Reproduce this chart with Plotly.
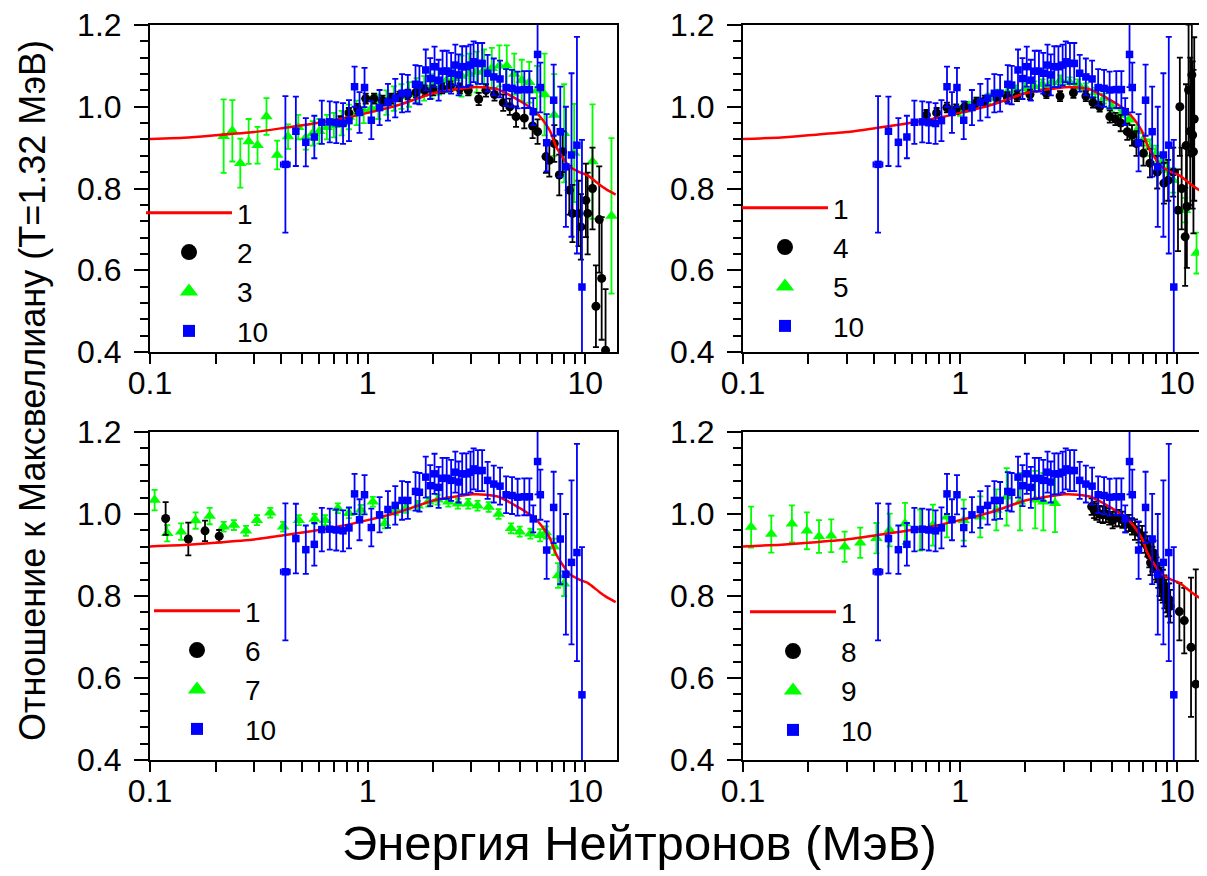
import plotly.graph_objects as go

# curve 1: ratio of the evaluated spectrum to the Maxwellian (T=1.32 MeV)
red_e = [0.1, 0.15, 0.2, 0.3, 0.41, 0.55, 0.745, 1.0, 1.4, 2.0, 2.5, 3.04, 3.5, 4.0, 4.33,
         4.8, 5.35, 5.9, 6.37, 6.9, 7.34, 7.9, 8.45, 9.4, 10.26, 11.6, 12.5, 13.8]
red_v = [0.921, 0.925, 0.93, 0.938, 0.948, 0.958, 0.970, 0.985, 1.005, 1.033, 1.042, 1.048, 1.047,
         1.042, 1.033, 1.02, 1.005, 0.988, 0.968, 0.94, 0.903, 0.875, 0.854, 0.84, 0.832, 0.81,
         0.798, 0.785]

# set 10 (shown in every panel)
blue_e = [0.419, 0.468, 0.52, 0.569, 0.616, 0.670, 0.718, 0.771, 0.821, 0.871, 0.918, 0.968, 1.04,
          1.135, 1.24, 1.34, 1.44, 1.53, 1.66, 1.73, 1.85, 1.94, 2.03, 2.12, 2.21, 2.31, 2.42,
          2.53, 2.62, 2.72, 2.84, 2.97, 3.07, 3.21, 3.36, 3.56, 3.80, 4.06, 4.33, 4.61, 4.89,
          5.25, 5.54, 5.77, 6.04, 6.22, 6.65, 7.16, 7.68, 8.15, 8.65, 9.16, 9.66]
blue_v = [0.859, 0.940, 0.913, 0.926, 0.962, 0.963, 0.961, 0.959, 0.966, 1.049, 0.986, 1.047, 0.967,
          0.998, 1.011, 1.021, 1.033, 1.033, 1.055, 1.053, 1.090, 1.069, 1.098, 1.065, 1.087,
          1.087, 1.082, 1.102, 1.078, 1.098, 1.098, 1.102, 1.110, 1.106, 1.106, 1.082, 1.073,
          1.068, 1.047, 1.045, 1.041, 1.042, 1.042, 0.988, 1.128, 1.047, 0.912, 1.016, 0.939,
          0.853, 0.882, 0.906, 0.559]
blue_err = [0.167, 0.085, 0.059, 0.052, 0.053, 0.05, 0.05, 0.05, 0.05, 0.049, 0.05, 0.048, 0.046,
            0.043, 0.045, 0.047, 0.047, 0.045, 0.047, 0.047, 0.05, 0.05, 0.049,
            0.05, 0.05, 0.05, 0.05, 0.05, 0.05, 0.05, 0.05, 0.05, 0.05, 0.05, 0.05,
            0.045, 0.045, 0.045, 0.045, 0.045, 0.045, 0.045, 0.045,
            0.033, 0.08, 0.061, 0.07, 0.087, 0.11, 0.147, 0.2, 0.265, 0.36]
blue_xerr = [0.02, 0.01] + [0] * 51

# panel a: sets 2 and 3
black2_e = [0.75, 0.82, 0.9, 0.98, 1.07, 1.17, 1.28, 1.4, 1.53, 1.67, 1.83, 2.0, 2.2, 2.4, 2.65,
            2.9, 3.24, 3.5, 3.83, 4.2, 4.5, 4.81, 5.25, 5.73, 6.04, 6.6, 6.84, 7.21, 7.6, 7.87,
            8.45, 8.74, 9.31, 9.55, 10.07, 10.26, 10.8, 11.2, 11.6, 11.9, 12.4]
black2_v = [0.965, 0.985, 0.995, 1.02, 1.02, 1.015, 1.02, 1.025, 1.03, 1.035, 1.04, 1.04, 1.045,
            1.05, 1.045, 1.04, 1.019, 1.04, 1.03, 1.01, 1.0, 0.976, 0.972, 0.953, 0.939, 0.878,
            0.869, 0.91, 0.833, 0.89, 0.796, 0.739, 0.739, 0.706, 0.771, 0.739, 0.80, 0.512,
            0.724, 0.58, 0.404]
black2_err = [0.012] * 16 + [0.015, 0.015, 0.015, 0.02, 0.02, 0.025, 0.025, 0.03, 0.03, 0.04,
                             0.04, 0.045, 0.05, 0.05, 0.06, 0.07, 0.08, 0.08, 0.09, 0.1, 0.1,
                             0.1, 0.13, 0.15, 0.15]
green3_e = [0.218, 0.239, 0.26, 0.284, 0.312, 0.343, 0.384, 0.431, 0.48, 0.52, 0.56, 0.60, 0.65,
            0.70, 0.76, 0.82, 0.89, 0.96, 1.04, 1.12, 1.22, 1.32, 1.43, 1.55, 1.68, 1.82, 1.97,
            2.13, 2.31, 2.5, 2.7, 2.93, 3.17, 3.43, 3.72, 4.03, 4.36, 4.72, 5.11, 5.53, 6.0,
            6.5, 7.2, 8.0, 8.9, 10.8, 13.2]
green3_v = [0.928, 0.941, 0.862, 0.915, 0.906, 0.976, 0.882, 0.927, 0.95, 0.925, 0.935, 0.94,
            0.95, 0.955, 0.96, 0.975, 0.985, 0.99, 0.995, 1.0, 1.01, 1.02, 1.025, 1.03, 1.04,
            1.045, 1.05, 1.06, 1.065, 1.07, 1.075, 1.08, 1.085, 1.09, 1.094, 1.10, 1.10, 1.08,
            1.065, 1.06, 1.04, 1.03, 0.98, 0.935, 0.887, 0.866, 0.733]
green3_err = [0.09, 0.075, 0.06, 0.055, 0.045, 0.045, 0.035, 0.03] + [0.03] * 22 + [0.05] * 10 \
    + [0.06, 0.1, 0.1, 0.12, 0.12, 0.14, 0.19]

# panel b: sets 4 and 5
black4_e = [0.70, 0.78, 0.87, 0.96, 1.05, 1.19, 1.3, 1.48, 1.65, 1.83, 2.1, 2.5, 2.89, 3.33, 3.8,
            4.1, 4.4, 4.9, 5.2, 5.5, 5.9, 6.2, 6.5, 7.0, 7.5, 8.1, 8.7, 9.1, 9.6, 10.1, 10.3,
            10.5, 10.9, 11.0, 11.1, 11.3, 11.5, 11.7, 11.8, 11.9, 12.0]
black4_v = [0.980, 0.985, 0.998, 0.994, 1.0, 1.010, 1.015, 1.022, 1.024, 1.026, 1.03, 1.033,
            1.026, 1.034, 1.026, 1.01, 1.0, 0.976, 0.97, 0.96, 0.939, 0.93, 0.91, 0.886, 0.862,
            0.84, 0.813, 0.82, 0.84, 0.747, 1.0, 0.80, 0.682, 0.905, 0.756, 1.041, 0.94, 1.078,
            0.931, 0.89, 0.97]
black4_err = [0.012] * 17 + [0.015, 0.015, 0.02, 0.02, 0.025, 0.03, 0.03, 0.035, 0.04, 0.05,
                             0.05, 0.06] \
    + [0.1, 0.12, 0.1, 0.12, 0.15, 0.15, 0.16, 0.18, 0.2, 0.18, 0.2, 0.2]
green5_e = [1.0, 1.1, 1.2, 1.35, 1.5, 1.65, 1.8, 2.0, 2.2, 2.4, 2.65, 2.9, 3.2, 3.5, 3.8, 4.2,
            4.6, 5.0, 5.5, 6.0, 6.5, 7.0, 7.5, 8.0, 8.5, 9.0, 9.6, 10.9, 12.3, 13.7]
green5_v = [0.99, 1.0, 1.01, 1.02, 1.03, 1.035, 1.04, 1.045, 1.05, 1.055, 1.06, 1.065, 1.06,
            1.055, 1.045, 1.035, 1.02, 1.0, 0.98, 0.968, 0.94, 0.92, 0.9, 0.885, 0.865, 0.845,
            0.82, 0.747, 0.642, 0.584]
green5_err = [0.012] * 20 + [0.015, 0.015, 0.02, 0.02, 0.02, 0.025, 0.03, 0.03, 0.05, 0.06]

# panel c: sets 6 and 7
black6_e = [0.118, 0.15, 0.179, 0.208]
black6_v = [0.989, 0.939, 0.959, 0.946]
black6_err = [0.04, 0.04, 0.025, 0.015]
green7_e = [0.105, 0.12, 0.139, 0.162, 0.188, 0.218, 0.243, 0.276, 0.31, 0.357, 0.409, 0.483,
            0.571, 0.638, 0.73, 0.82, 0.93, 1.057, 1.2, 1.35, 1.5, 1.7, 1.9, 2.1, 2.35, 2.6,
            2.9, 3.2, 3.6, 4.0, 4.56, 5.0, 5.6, 6.2, 6.6, 7.2, 7.5, 8.0]
green7_v = [1.034, 0.953, 0.957, 0.984, 0.995, 0.969, 0.973, 0.959, 0.985, 1.003, 0.969, 0.985,
            0.988, 0.985, 1.014, 1.002, 1.01, 1.03, 0.977, 1.01, 1.015, 1.02, 1.03, 1.035, 1.03,
            1.025, 1.025, 1.02, 1.017, 1.0, 0.965, 0.957, 0.952, 0.948, 0.955, 0.92, 0.85, 0.83]
green7_err = [0.025, 0.02, 0.02, 0.02, 0.02] + [0.012] * 28 + [0.015, 0.015, 0.02, 0.03, 0.03]

# panel d: sets 8 and 9
black8_e = [4.04, 4.15, 4.25, 4.4, 4.55, 4.7, 4.87, 5.05, 5.2, 5.4, 5.6, 5.8, 6.0, 6.2, 6.4,
            6.65, 6.9, 7.1, 7.3, 7.45, 7.55, 7.7, 7.8, 7.95, 8.05, 8.2, 8.3, 8.45, 8.6, 8.75,
            8.9, 9.05, 9.2, 9.3, 10.25, 10.8, 11.6, 12.2]
black8_v = [1.018, 1.01, 1.006, 1.0, 0.998, 1.0, 0.994, 0.985, 0.99, 0.99, 0.986, 0.975, 0.978,
            0.97, 0.962, 0.955, 0.946, 0.93, 0.921, 0.90, 0.881, 0.89, 0.905, 0.87, 0.864, 0.85,
            0.84, 0.83, 0.824, 0.81, 0.80, 0.79, 0.791, 0.775, 0.762, 0.74, 0.675, 0.585]
black8_err = [0.02] * 14 + [0.025] * 5 + [0.03] * 7 + [0.04] * 8 + [0.07, 0.08, 0.17, 0.28]
green9_e = [0.109, 0.135, 0.168, 0.197, 0.224, 0.255, 0.294, 0.347, 0.412, 0.474, 0.558, 0.655,
            0.75, 0.87, 1.04, 1.24, 1.47, 1.64, 1.89, 2.22, 2.42, 2.74]
green9_v = [0.968, 0.951, 0.976, 0.959, 0.945, 0.947, 0.92, 0.93, 0.941, 0.961, 0.977, 0.961,
            0.973, 0.993, 0.985, 0.993, 1.01, 1.042, 1.03, 1.035, 1.03, 1.026]
green9_err = [0.05, 0.045, 0.045, 0.045, 0.04, 0.04, 0.037, 0.037, 0.037, 0.04, 0.05, 0.05,
              0.05, 0.05, 0.05, 0.05, 0.05, 0.07, 0.07, 0.07, 0.07, 0.07]

x_ticks = [0.1, 1, 10]
x_tick_text = ['0.1', '1', '10']
x_minor = [0.2, 0.3, 0.4, 0.5, 0.6, 0.7, 0.8, 0.9, 2, 3, 4, 5, 6, 7, 8, 9]
y_ticks = [0.4, 0.6, 0.8, 1.0, 1.2]
y_tick_text = ['0.4', '0.6', '0.8', '1.0', '1.2']

FONT = 'Liberation Sans, Arial, sans-serif'
BLACK = '#000000'
GREEN = '#00ff00'
BLUE = '#0000ff'
RED = '#ff0000'

panels = [
    # axis suffix, legend id, black set, green set, labels
    ('', 'legend', (black2_e, black2_v, black2_err), (green3_e, green3_v, green3_err), ('2', '3')),
    ('2', 'legend2', (black4_e, black4_v, black4_err), (green5_e, green5_v, green5_err), ('4', '5')),
    ('3', 'legend3', (black6_e, black6_v, black6_err), (green7_e, green7_v, green7_err), ('6', '7')),
    ('4', 'legend4', (black8_e, black8_v, black8_err), (green9_e, green9_v, green9_err), ('8', '9')),
]

fig = go.Figure()

for sfx, leg, blk, grn, labels in panels:
    xa, ya = 'x' + sfx, 'y' + sfx
    fig.add_trace(go.Scatter(x=grn[0], y=grn[1], mode='markers', xaxis=xa, yaxis=ya,
                             marker=dict(symbol='triangle-up', size=11, color=GREEN),
                             error_y=dict(type='data', array=grn[2], color=GREEN,
                                          thickness=1.8, width=3),
                             showlegend=False))
    fig.add_trace(go.Scatter(x=blk[0], y=blk[1], mode='markers', xaxis=xa, yaxis=ya,
                             marker=dict(symbol='circle', size=9, color=BLACK),
                             error_y=dict(type='data', array=blk[2], color=BLACK,
                                          thickness=1.8, width=3),
                             showlegend=False))
    fig.add_trace(go.Scatter(x=red_e, y=red_v, mode='lines', xaxis=xa, yaxis=ya,
                             line=dict(color=RED, width=2.5, shape='spline', smoothing=0.5),
                             showlegend=False))
    fig.add_trace(go.Scatter(x=blue_e, y=blue_v, mode='markers', xaxis=xa, yaxis=ya,
                             marker=dict(symbol='square', size=7.5, color=BLUE),
                             error_y=dict(type='data', array=blue_err, color=BLUE,
                                          thickness=1.8, width=3),
                             error_x=dict(type='data', array=blue_xerr, color=BLUE,
                                          thickness=1.8, width=3),
                             showlegend=False))
    # legend entries
    fig.add_trace(go.Scatter(x=[None], y=[None], mode='lines', name='1', xaxis=xa, yaxis=ya,
                             line=dict(color=RED, width=3), legend=leg, legendgroup=leg + 'a'))
    fig.add_trace(go.Scatter(x=[None], y=[None], mode='markers', name=labels[0], xaxis=xa,
                             yaxis=ya, marker=dict(symbol='circle', size=16, color=BLACK),
                             legend=leg, legendgroup=leg + 'b'))
    fig.add_trace(go.Scatter(x=[None], y=[None], mode='markers', name=labels[1], xaxis=xa,
                             yaxis=ya, marker=dict(symbol='triangle-up', size=16, color=GREEN),
                             legend=leg, legendgroup=leg + 'c'))
    fig.add_trace(go.Scatter(x=[None], y=[None], mode='markers', name='10', xaxis=xa, yaxis=ya,
                             marker=dict(symbol='square', size=12, color=BLUE),
                             legend=leg, legendgroup=leg + 'd'))

W, H = 1207, 876
OFF = 8  # page margin of the html body
dom_x = {'': [(150 - OFF) / W, (617 - OFF) / W], '2': [(743 - OFF) / W, (1207 - OFF) / W]}
dom_x['3'], dom_x['4'] = dom_x[''], dom_x['2']
dom_y = {'': [1 - (352 - OFF) / H, 1 - (25 - OFF) / H], '3': [1 - (760 - OFF) / H, 1 - (432 - OFF) / H]}
dom_y['2'], dom_y['4'] = dom_y[''], dom_y['3']
x_max = {'': 1.146, '2': 1.138, '3': 1.146, '4': 1.138}

layout = dict(width=W, height=H, margin=dict(l=0, r=0, t=0, b=0, autoexpand=False),
              template='none', paper_bgcolor='white', plot_bgcolor='white',
              font=dict(family=FONT, size=28, color='black'))

for sfx in ['', '2', '3', '4']:
    layout['xaxis' + sfx] = dict(
        type='log', domain=dom_x[sfx], range=[-1, x_max[sfx]], anchor='y' + sfx,
        automargin=False, showline=True, linecolor='black', linewidth=2, mirror=True,
        ticks='outside', ticklen=10, tickwidth=2, tickcolor='black',
        tickmode='array', tickvals=x_ticks, ticktext=x_tick_text, ticklabelstandoff=-8,
        ticklabeloverflow='allow',
        minor=dict(tickmode='array', tickvals=x_minor, ticks='outside', ticklen=10,
                   tickwidth=2, tickcolor='black'),
        showgrid=False, zeroline=False, tickfont=dict(size=32))
    layout['yaxis' + sfx] = dict(
        domain=dom_y[sfx], range=[0.4, 1.2], anchor='x' + sfx,
        automargin=False, showline=True, linecolor='black', linewidth=2, mirror=True,
        ticks='outside', ticklen=14, tickwidth=2, tickcolor='black',
        tickmode='array', tickvals=y_ticks, ticktext=y_tick_text, ticklabelstandoff=6,
        ticklabeloverflow='allow',
        minor=dict(dtick=0.04, tick0=0.4, ticks='outside', ticklen=8, tickwidth=2,
                   tickcolor='black'),
        showgrid=False, zeroline=False, tickfont=dict(size=32))

# legend box corners (pixels of the figure, page margin already removed)
legend_pos = {'legend': (133, 180), 'legend2': (729, 175), 'legend3': (141, 578), 'legend4': (737, 579)}
for name, (px_, py_) in legend_pos.items():
    layout[name] = dict(x=px_ / W, y=1 - py_ / H, xanchor='left', yanchor='top',
                        bgcolor='rgba(0,0,0,0)', font=dict(size=28, family=FONT),
                        tracegroupgap=0, itemwidth=86)

layout['annotations'] = [
    dict(text='Энергия Нейтронов (МэВ)', x=(640 - OFF) / W, y=1 - (843 - OFF) / H,
         xref='paper', yref='paper', xanchor='center', yanchor='middle',
         showarrow=False, font=dict(size=49, family=FONT)),
    dict(text='Отношение к Максвеллиану (T=1.32 МэВ)', x=(33 - OFF) / W, y=1 - (391 - OFF) / H,
         xref='paper', yref='paper', xanchor='center', yanchor='middle', textangle=-90,
         showarrow=False, font=dict(size=36, family=FONT)),
]

fig.update_layout(**layout)
fig.write_html("out.html")
